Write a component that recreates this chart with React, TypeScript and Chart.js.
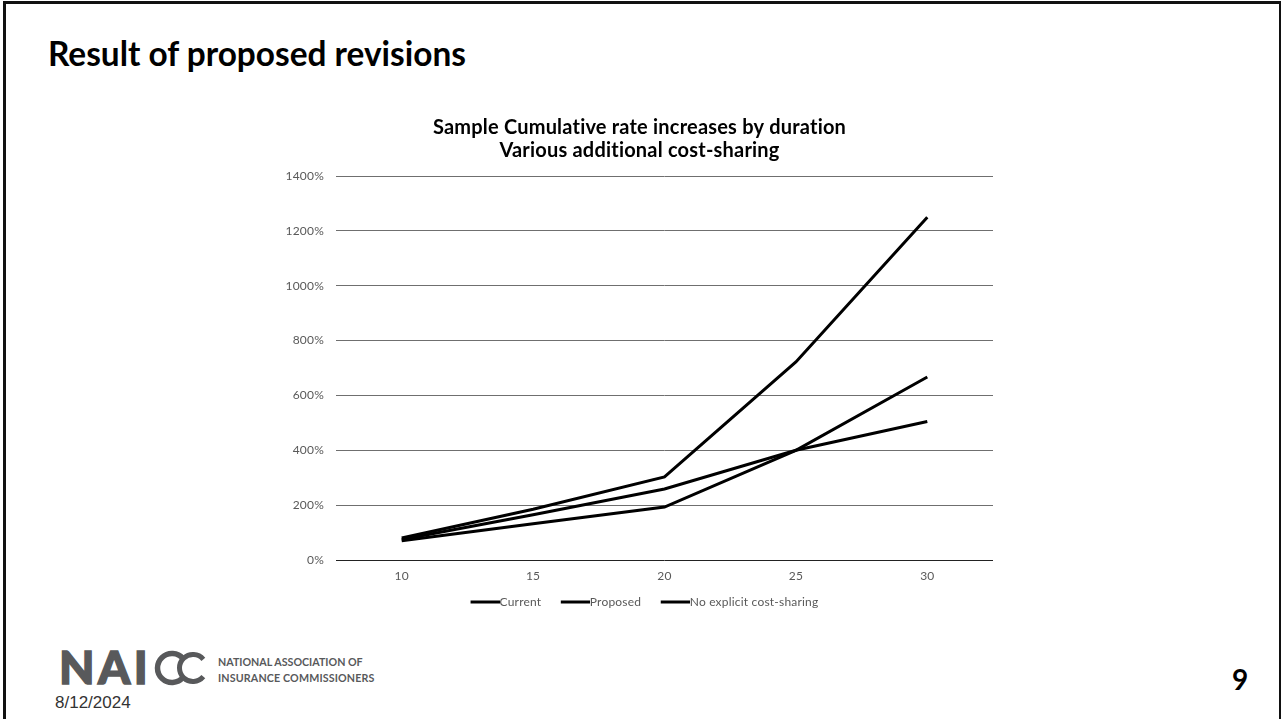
import React, { useEffect, useRef } from "react";
import { Chart, registerables } from "chart.js";

Chart.register(...registerables);

// Policy duration (years) on the category axis
const durations = ["10", "15", "20", "25", "30"];

// Cumulative rate increase, in percent
const currentPct = [70, 132, 193, 400, 667];
const proposedPct = [75, 165, 259, 400, 505];
const noCostSharingPct = [80, 185, 303, 722, 1250];

const seriesNames = ["Current", "Proposed", "No explicit cost-sharing"];
const chartTitle = ["Sample Cumulative rate increases by duration", "Various additional cost-sharing"];

const yMin = 0;
const yMax = 1400;
const yStep = 200;

const TICK_GREY = "#595959";
const LOGO_GREY = "#58595b";

// Legend swatch: a short thick line that runs right up to the label text.
// The image is wider than the reserved box so the line's right end meets the text,
// while its transparent left part acts as extra spacing between legend entries.
const SWATCH_BOX = 33;
const SWATCH_LINE = 29;
function makeLegendSwatch(): HTMLCanvasElement {
  const c = document.createElement("canvas");
  const w = SWATCH_BOX + 12;
  c.width = w;
  c.height = 4;
  const g = c.getContext("2d");
  if (g) {
    g.fillStyle = "#000000";
    g.fillRect(w - SWATCH_LINE, 0.5, SWATCH_LINE, 3);
  }
  return c;
}

// Keeps canvas text free of ligatures (e.g. "ti") by giving it a hair of tracking
const noLigatures = {
  id: "noLigatures",
  beforeLayout(chart: any) {
    chart.ctx.letterSpacing = "0.2px";
  },
  beforeDraw(chart: any) {
    chart.ctx.letterSpacing = "0.2px";
  },
};

function RateChart() {
  const canvasRef = useRef<HTMLCanvasElement | null>(null);

  useEffect(() => {
    const canvas = canvasRef.current;
    if (!canvas) return;
    const series = [currentPct, proposedPct, noCostSharingPct];
    const swatch = makeLegendSwatch();
    const chart = new Chart(canvas, {
      type: "line",
      plugins: [noLigatures],
      data: {
        labels: durations,
        datasets: series.map((values, i) => ({
          label: seriesNames[i],
          data: values,
          borderColor: "#000000",
          backgroundColor: "#000000",
          borderWidth: 3,
          pointRadius: 0,
          pointHoverRadius: 0,
          tension: 0,
          fill: false,
        })),
      },
      options: {
        animation: false,
        responsive: false,
        maintainAspectRatio: false,
        layout: { padding: { left: 0, right: 27, top: 0, bottom: 12 } },
        plugins: {
          title: {
            display: true,
            text: chartTitle,
            color: "#000000",
            font: { family: "Lato", size: 20, weight: "bold", lineHeight: 1.15 },
            padding: { top: 16, bottom: 14 },
          },
          legend: {
            position: "bottom",
            labels: {
              usePointStyle: true,
              pointStyle: swatch as any,
              pointStyleWidth: SWATCH_BOX,
              boxHeight: 12,
              color: TICK_GREY,
              font: { family: "Lato", size: 12 },
              padding: 9.5,
            },
          },
          tooltip: { enabled: false },
        },
        scales: {
          x: {
            offset: true,
            grid: { display: false, drawTicks: false, offset: true },
            border: { display: false },
            ticks: { color: TICK_GREY, font: { family: "Lato", size: 12 }, padding: 9 },
            afterFit: (scale: any) => {
              scale.height = 26.5;
            },
          },
          y: {
            min: yMin,
            max: yMax,
            border: { display: false },
            grid: {
              drawTicks: false,
              lineWidth: 1,
              color: (ctx: any) => (ctx.tick && ctx.tick.value === 0 ? "#222222" : "#6f6f6f"),
            },
            ticks: {
              stepSize: yStep,
              color: TICK_GREY,
              font: { family: "Lato", size: 12 },
              padding: 12,
              callback: (v: any) => `${v}%`,
            },
            afterFit: (scale: any) => {
              scale.width = 50;
            },
          },
        },
      },
    });
    return () => chart.destroy();
  }, []);

  return (
    <canvas
      ref={canvasRef}
      width={734}
      height={530}
      style={{ position: "absolute", left: 286, top: 100, width: 734, height: 530 }}
    />
  );
}

function DoubleC() {
  const arc = (cx: number, cy: number, r: number, a: number) => {
    const rad = (a * Math.PI) / 180;
    const x = cx + r * Math.cos(rad);
    const y1 = cy - r * Math.sin(rad);
    const y2 = cy + r * Math.sin(rad);
    return `M ${x} ${y1} A ${r} ${r} 0 1 0 ${x} ${y2}`;
  };
  return (
    <svg
      width={60}
      height={36}
      viewBox="0 0 60 36"
      style={{ position: "absolute", left: 154, top: 650 }}
    >
      <path d={arc(18, 18, 14.5, 40)} fill="none" stroke={LOGO_GREY} strokeWidth={5.5} />
      <path d={arc(39, 18, 13.5, 40)} fill="none" stroke={LOGO_GREY} strokeWidth={5} />
    </svg>
  );
}

export default function App() {
  const lato = "Lato, 'Open Sans', sans-serif";
  return (
    <div
      style={{
        position: "fixed",
        left: 0,
        top: 0,
        width: 1281,
        height: 719,
        background: "#ffffff",
        overflow: "hidden",
      }}
    >
      <div
        style={{
          position: "absolute",
          left: 3,
          top: 1,
          width: 1273,
          height: 800,
          borderTop: "3px solid #111",
          borderLeft: "3px solid #111",
          borderRight: "2px solid #111",
        }}
      />
      <div
        style={{
          position: "absolute",
          left: 48,
          top: 37.3,
          fontFamily: lato,
          fontWeight: 700,
          fontSize: 33.4,
          lineHeight: "33.4px",
          color: "#000",
          whiteSpace: "nowrap",
        }}
      >
        Result of proposed revisions
      </div>

      <RateChart />

      <div
        style={{
          position: "absolute",
          left: 59,
          top: 644.2,
          fontFamily: lato,
          fontWeight: 900,
          fontSize: 46,
          lineHeight: "46px",
          letterSpacing: 3.5,
          color: LOGO_GREY,
          WebkitTextStroke: `1.4px ${LOGO_GREY}`,
          whiteSpace: "nowrap",
        }}
      >
        NAI
      </div>
      <DoubleC />
      <div
        style={{
          position: "absolute",
          left: 218,
          top: 656.5,
          fontFamily: lato,
          fontWeight: 700,
          fontSize: 10.7,
          color: LOGO_GREY,
          whiteSpace: "nowrap",
        }}
      >
        <div style={{ height: 16, lineHeight: "10.7px" }}>NATIONAL ASSOCIATION OF</div>
        <div style={{ height: 16, lineHeight: "10.7px", letterSpacing: 0.15 }}>INSURANCE COMMISSIONERS</div>
      </div>
      <div
        style={{
          position: "absolute",
          left: 55,
          top: 693.6,
          fontFamily: "'Liberation Sans', Arial, sans-serif",
          fontSize: 17,
          lineHeight: "17px",
          color: "#333",
          whiteSpace: "nowrap",
        }}
      >
        8/12/2024
      </div>
      <div
        style={{
          position: "absolute",
          left: 1232,
          top: 665.2,
          fontFamily: lato,
          fontWeight: 700,
          fontSize: 28,
          lineHeight: "28px",
          color: "#000",
        }}
      >
        9
      </div>
    </div>
  );
}
